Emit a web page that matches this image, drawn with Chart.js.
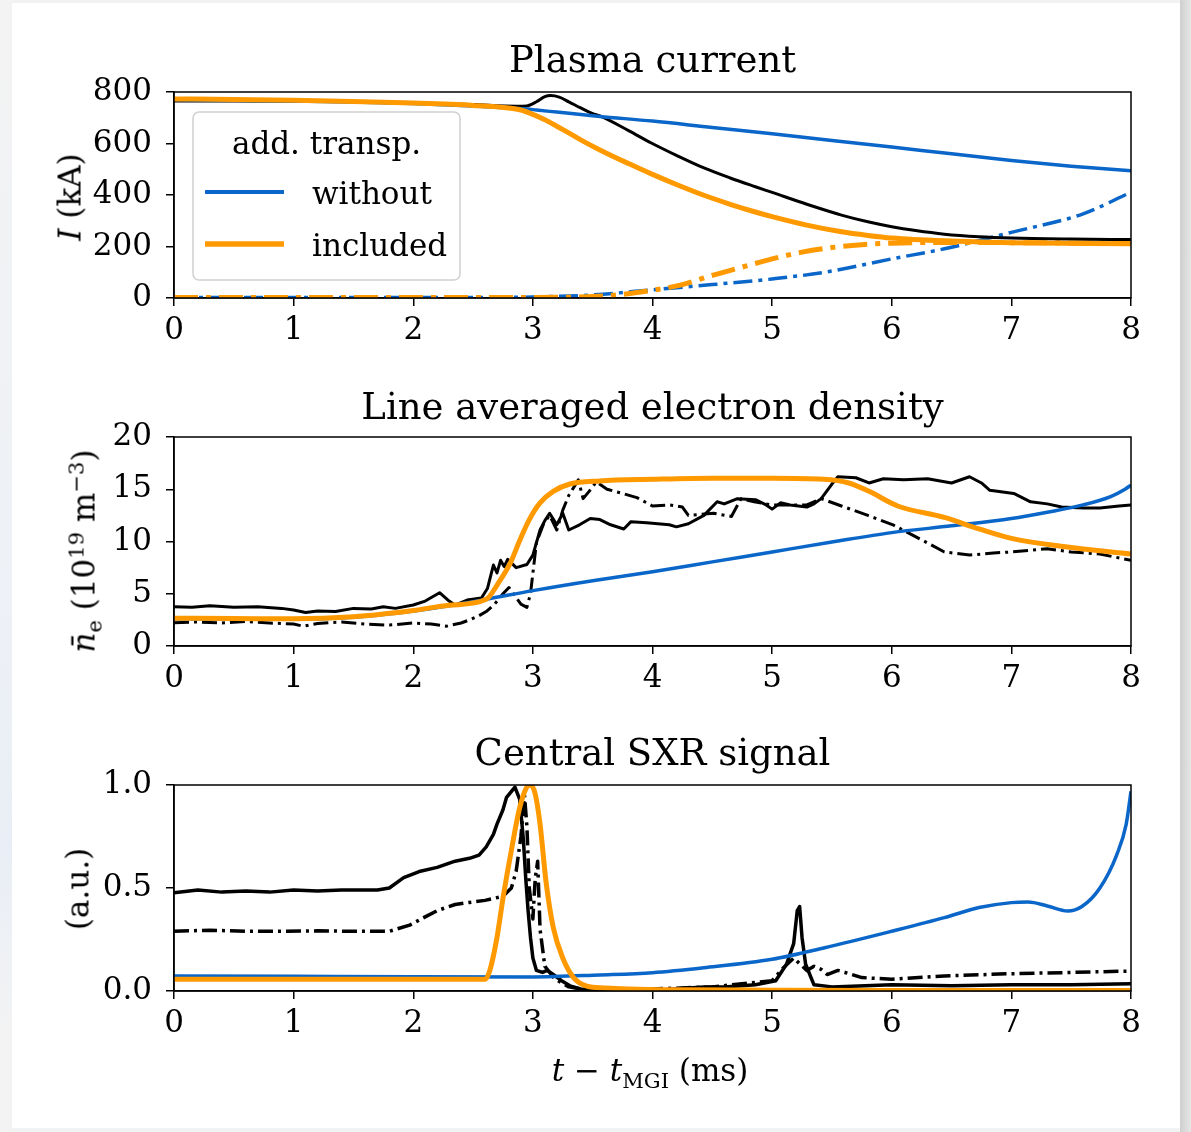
<!DOCTYPE html>
<html><head><meta charset="utf-8">
<script src="https://cdn.jsdelivr.net/npm/chart.js@4.4.1/dist/chart.umd.min.js"></script>
<style>
html,body{margin:0;padding:0;}
body{width:1191px;height:1132px;position:relative;overflow:hidden;background:#f1f2f4;}
#leftbg{position:absolute;left:0;top:0;width:12px;height:1132px;background:linear-gradient(to bottom,#f3f3f3 0%,#eef1f6 50%,#e9eef6 75%,#f3f3f3 92%);}
#card{position:absolute;left:12px;top:3px;width:1168px;height:1125px;background:#fff;}
#edge{position:absolute;left:1180px;top:0;width:11px;height:1132px;background:linear-gradient(to right,#cfcfcf,#e6e6e6);}
canvas{position:absolute;left:0;}
.lab{position:absolute;font-family:'DejaVu Serif',serif;font-size:31px;color:#000;white-space:nowrap;line-height:1;}
.rot{transform:translate(-50%,-50%) rotate(-90deg);}
.hor{transform:translate(-50%,-50%);}
sub,sup{font-size:68%;line-height:0;}
</style></head><body>
<div id="leftbg"></div><div id="card"></div><div id="edge"></div>
<canvas id="c1" width="1191" height="360" style="top:0px"></canvas>
<canvas id="c2" width="1191" height="350" style="top:360px"></canvas>
<canvas id="c3" width="1191" height="422" style="top:710px"></canvas>
<div class="lab rot" style="left:70px;top:197px"><i>I</i> (kA)</div>
<div class="lab rot" style="left:84px;top:551px"><i>n̄</i><sub>e</sub> (10<sup>19</sup> m<sup>−3</sup>)</div>
<div class="lab rot" style="left:78px;top:889px">(a.u.)</div>
<div class="lab hor" style="left:650px;top:1070px"><i>t</i> − <i>t</i><sub>MGI</sub> (ms)</div>
<script>
const FONT = 'DejaVu Serif';
const BLUE = '#0a66c8', ORANGE = '#ff9900', BLACK = '#000000';

// ---- axis ticks / text ----
const xTicks = [0,1,2,3,4,5,6,7,8];
const ipTicks = [0,200,400,600,800];
const neTicks = [0,5,10,15,20];
const sxrTicks = [0,0.5,1.0];
const sxrTickLabels = ['0.0','0.5','1.0'];
const panelTitles = ['Plasma current','Line averaged electron density','Central SXR signal'];
const legendTitle = 'add. transp.';
const legendLabels = ['without','included'];

// ---- Panel 1: plasma current (kA) ----
const ipExpT = [0,0.5,1,1.5,2,2.5,2.86,2.95,3.03,3.1,3.15,3.22,3.3,3.4,3.5,3.56,3.8,3.99,4.2,4.43,4.65,4.86,5.0,5.29,5.58,5.8,6.0,6.2,6.44,6.73,7.0,7.5,8.0];
const ipExpV = [765,765,764,762,758,751,745,746,762,782,786,780,762,738,716,707,650,602,554,505,466,432,410,364,322,296,277,262,248,238,233,229,227];
const ipNoT = [0,0.5,1,1.5,2,2.5,2.85,2.95,3.03,3.2,3.56,4,4.5,5,5.5,6,6.5,7,7.5,8];
const ipNoV = [770,768,765,761,755,746,737,734,730,722,705,687,662,638,612,586,560,534,512,494];
const ipInT = [0,0.5,1,1.5,2,2.5,2.8,2.9,3.0,3.1,3.2,3.3,3.4,3.56,3.8,4.0,4.2,4.43,4.65,4.86,5.0,5.29,5.58,5.8,6.0,6.44,7.0,8.0];
const ipInV = [773,771,768,763,757,748,738,730,713,692,667,641,614,575,522,480,441,399,364,334,316,283,257,243,233,222,215,211];
const ireNoT = [0,1,2,2.5,3,3.5,4,4.5,5,5.44,6,6.44,7,7.6,8];
const ireNoV = [2,2,2,2,4,12,32,52,74,100,152,191,255,327,411];
const ireInT = [0,1,2,3,3.5,3.75,4,4.25,4.5,4.75,5,5.25,5.5,5.75,6,6.5,7,8];
const ireInV = [2,2,2,2,6,14,30,52,88,120,152,178,196,207,213,216,215,213];

// ---- Panel 2: line averaged density (1e19 m^-3) ----
const neExpT = [0,0.15,0.3,0.5,0.7,0.9,1.0,1.1,1.2,1.35,1.5,1.65,1.75,1.85,2.0,2.1,2.22,2.3,2.35,2.45,2.57,2.62,2.67,2.7,2.73,2.76,2.79,2.86,2.95,3.0,3.06,3.1,3.14,3.2,3.25,3.3,3.39,3.48,3.56,3.65,3.76,3.82,3.95,4.14,4.2,4.3,4.43,4.54,4.6,4.71,4.86,4.95,5.0,5.07,5.15,5.29,5.35,5.41,5.5,5.55,5.7,5.81,5.93,6.1,6.3,6.5,6.65,6.75,6.82,7.02,7.16,7.3,7.42,7.6,7.74,7.9,8.0];
const neExpV = [3.76,3.7,3.86,3.7,3.75,3.6,3.45,3.2,3.35,3.3,3.6,3.55,3.75,3.6,3.92,4.3,5.1,4.3,3.9,4.4,4.6,5.5,7.75,7.0,8.2,7.6,8.3,7.5,7.8,8.7,11.1,12.0,12.7,11.6,12.7,11.1,11.6,12.2,12.1,11.6,11.2,11.9,11.8,11.6,11.4,11.7,12.5,13.8,13.6,14.1,14.0,13.5,13.1,13.7,13.5,13.3,13.6,14.1,15.5,16.2,16.1,15.6,16.0,15.9,16.0,15.6,16.2,15.6,14.9,14.6,13.8,13.6,13.3,13.2,13.2,13.4,13.5];
const neExp2T = [0,0.2,0.4,0.6,0.8,1.0,1.08,1.2,1.4,1.6,1.8,2.0,2.15,2.28,2.4,2.47,2.55,2.61,2.68,2.75,2.8,2.85,2.9,2.95,2.98,3.03,3.09,3.14,3.2,3.25,3.3,3.38,3.42,3.47,3.53,3.62,3.75,3.87,4.0,4.14,4.25,4.3,4.51,4.66,4.74,4.85,5.0,5.29,5.41,5.58,5.8,6.01,6.21,6.44,6.65,6.85,7.0,7.3,7.5,7.74,8.0];
const neExp2V = [2.23,2.3,2.2,2.35,2.2,2.1,1.9,2.15,2.3,2.1,2.0,2.2,2.1,1.9,2.2,2.5,2.9,3.3,4.0,5.0,5.6,4.8,4.0,3.7,5.0,9.9,11.7,12.5,11.1,13.0,14.4,15.9,14.1,14.8,15.7,15.0,14.6,14.2,13.4,13.5,13.3,12.5,12.7,12.4,14.1,13.8,13.5,13.5,14.1,13.4,12.5,11.6,10.4,9.0,8.7,8.9,9.0,9.3,9.0,8.8,8.2];
const neNoT = [0,1,1.5,2,2.3,2.61,3,3.5,4,4.5,5,5.5,6,6.5,7,7.3,7.6,7.83,7.95,8];
const neNoV = [2.6,2.55,2.75,3.35,3.85,4.47,5.3,6.25,7.1,8.05,9.0,9.95,10.85,11.5,12.2,12.8,13.5,14.3,15.0,15.4];
const neInT = [0,0.5,1,1.5,2,2.3,2.61,2.71,2.81,2.89,2.97,3.06,3.17,3.31,3.56,4,4.5,5,5.43,5.64,5.81,6.05,6.44,6.73,7,7.45,8];
const neInV = [2.65,2.63,2.6,2.8,3.4,3.9,4.47,6.0,7.9,10.1,12.1,13.7,14.8,15.5,15.8,15.95,16.05,16.05,15.95,15.6,14.8,13.4,12.3,11.2,10.3,9.5,8.8];

// ---- Panel 3: central SXR (a.u.) ----
const sxrExpT = [0,0.2,0.4,0.6,0.8,1.0,1.2,1.4,1.6,1.7,1.8,1.92,2.05,2.2,2.35,2.47,2.55,2.61,2.67,2.7,2.75,2.78,2.85,2.89,2.92,2.94,2.96,2.98,3.0,3.03,3.08,3.12,3.17,3.24,3.31,3.4,3.5,4.0,4.43,4.6,4.86,5.03,5.12,5.18,5.21,5.23,5.25,5.28,5.35,5.5,6.0,6.5,7.0,7.5,8.0];
const sxrExpV = [0.477,0.49,0.48,0.485,0.48,0.49,0.485,0.49,0.49,0.49,0.5,0.55,0.58,0.6,0.63,0.644,0.66,0.7,0.76,0.81,0.88,0.94,0.99,0.93,0.74,0.55,0.39,0.26,0.16,0.1,0.09,0.1,0.08,0.05,0.025,0.01,0.002,0.003,0.02,0.02,0.03,0.05,0.13,0.23,0.39,0.41,0.26,0.13,0.03,0.02,0.03,0.025,0.03,0.03,0.035];
const sxrExp2T = [0,0.3,0.6,0.9,1.2,1.5,1.8,1.97,2.1,2.2,2.35,2.47,2.6,2.75,2.82,2.86,2.9,2.93,2.95,2.97,3.0,3.02,3.04,3.06,3.1,3.18,3.3,3.45,4.0,4.5,5.0,5.09,5.18,5.29,5.35,5.41,5.46,5.55,5.61,5.75,6.0,6.44,7.0,7.5,8.0];
const sxrExp2V = [0.29,0.295,0.29,0.29,0.292,0.29,0.29,0.32,0.36,0.39,0.42,0.43,0.44,0.46,0.5,0.58,0.75,0.95,0.8,0.5,0.35,0.55,0.63,0.3,0.12,0.06,0.02,0.005,0.01,0.02,0.05,0.11,0.16,0.1,0.12,0.105,0.08,0.1,0.09,0.065,0.057,0.073,0.084,0.09,0.097];
const sxrNoT = [0,1,2,3,3.56,4,4.43,5,5.44,6,6.44,6.73,7.0,7.14,7.3,7.47,7.59,7.74,7.88,7.96,8];
const sxrNoV = [0.073,0.071,0.069,0.068,0.078,0.089,0.113,0.154,0.21,0.29,0.356,0.405,0.429,0.432,0.413,0.388,0.41,0.5,0.66,0.81,0.97];
const sxrInT = [0,1,2,2.6,2.64,2.7,2.75,2.81,2.89,2.95,2.98,3.02,3.06,3.11,3.17,3.25,3.34,3.45,3.6,3.8,4.2,5,6,8];
const sxrInV = [0.057,0.057,0.057,0.057,0.1,0.26,0.45,0.65,0.89,0.99,1.0,0.955,0.81,0.53,0.31,0.16,0.065,0.024,0.015,0.01,0.006,0.004,0.003,0.003];

function pts(t, v) { return t.map((x, i) => ({x: x, y: v[i]})); }
function series(label, t, v, color, width, dash, smooth) {
  return {
    label: label, data: pts(t, v), borderColor: color, backgroundColor: color,
    borderWidth: width, borderDash: dash || [], pointRadius: 0, pointHoverRadius: 0,
    fill: false, tension: 0, cubicInterpolationMode: smooth ? 'monotone' : 'default',
    clip: 0, borderCapStyle: 'butt', borderJoinStyle: 'round'
  };
}

const framePlugin = {
  id: 'frame',
  afterDatasetsDraw(chart) {
    const a = chart.chartArea, c = chart.ctx;
    c.save(); c.strokeStyle = '#000'; c.lineWidth = 1.5;
    c.strokeRect(a.left, a.top, a.right - a.left, a.bottom - a.top);
    c.restore();
  }
};

const boxLegendPlugin = {
  id: 'boxLegend',
  afterDraw(chart) {
    const c = chart.ctx;
    c.save();
    c.beginPath();
    c.roundRect(193, 112, 267, 168, 6);
    c.fillStyle = 'rgba(255,255,255,0.85)'; c.fill();
    c.strokeStyle = '#d0d0d0'; c.lineWidth = 1.5; c.stroke();
    c.fillStyle = '#000';
    c.font = '31px "' + FONT + '"';
    c.textBaseline = 'alphabetic';
    c.textAlign = 'center';
    c.fillText(legendTitle, 326.5, 154);
    c.textAlign = 'left';
    const items = [{col: BLUE, w: 4, y: 192, ty: 204}, {col: ORANGE, w: 5.5, y: 244, ty: 256}];
    items.forEach((it, i) => {
      c.beginPath(); c.strokeStyle = it.col; c.lineWidth = it.w; c.lineCap = 'butt';
      c.moveTo(205, it.y); c.lineTo(284, it.y); c.stroke();
      c.fillText(legendLabels[i], 312, it.ty);
    });
    c.restore();
  }
};

function makeScales(ymin, ymax, yTickVals, yLabelFn, xAxisHeight) {
  return {
    x: {
      type: 'linear', min: 0, max: 8,
      afterBuildTicks: s => { s.ticks = xTicks.map(v => ({value: v})); },
      afterFit: s => { s.height = xAxisHeight; },
      grid: {drawOnChartArea: false, drawTicks: true, tickLength: 8, tickWidth: 1.5, lineWidth: 1.5, tickColor: '#000', color: '#000'},
      border: {display: true, color: '#000', width: 1.5},
      ticks: {color: '#000', font: {family: FONT, size: 31, lineHeight: 1.2}, padding: 6, maxRotation: 0, autoSkip: false,
              callback: (v, i) => String(xTicks[i])}
    },
    y: {
      type: 'linear', min: ymin, max: ymax,
      afterBuildTicks: s => { s.ticks = yTickVals.map(v => ({value: v})); },
      afterFit: s => { s.width = 174; },
      grid: {drawOnChartArea: false, drawTicks: true, tickLength: 8, tickWidth: 1.5, lineWidth: 1.5, tickColor: '#000', color: '#000'},
      border: {display: true, color: '#000', width: 1.5},
      ticks: {color: '#000', font: {family: FONT, size: 31, lineHeight: 1.2}, padding: 14, autoSkip: false,
              callback: (v, i) => yLabelFn(i)}
    }
  };
}

function baseOptions(title, padTop, padBottom, scales) {
  return {
    responsive: false, animation: false, devicePixelRatio: 1,
    layout: {padding: {left: 0, right: 60, top: 0, bottom: 0}},
    plugins: {
      legend: {display: false}, tooltip: {enabled: false},
      title: {display: true, text: title, fullSize: false, color: '#000',
              font: {family: FONT, size: 37, weight: 'normal', lineHeight: 1.2},
              padding: {top: padTop, bottom: padBottom}}
    },
    scales: scales
  };
}

// Panel 1
new Chart(document.getElementById('c1'), {
  type: 'line',
  data: {datasets: [
    series(legendLabels[1], ipInT, ipInV, ORANGE, 5, [], true),
    series(legendLabels[0], ipNoT, ipNoV, BLUE, 3.5, [], true),
    series('experiment', ipExpT, ipExpV, BLACK, 3, [], true),
    series('runaway current (' + legendLabels[1] + ')', ireInT, ireInV, ORANGE, 5, [24, 8, 5, 8], true),
    series('runaway current (' + legendLabels[0] + ')', ireNoT, ireNoV, BLUE, 3.5, [19, 6, 4, 6], true)
  ]},
  options: baseOptions(panelTitles[0], 40, 7.6, makeScales(0, 800, ipTicks, i => String(ipTicks[i]), 62)),
  plugins: [framePlugin, boxLegendPlugin]
});

// Panel 2
new Chart(document.getElementById('c2'), {
  type: 'line',
  data: {datasets: [
    series(legendLabels[1], neInT, neInV, ORANGE, 5, [], true),
    series(legendLabels[0], neNoT, neNoV, BLUE, 3.5, [], true),
    series('experiment 1', neExpT, neExpV, BLACK, 3, []),
    series('experiment 2', neExp2T, neExp2V, BLACK, 3, [15, 5, 3, 5])
  ]},
  options: baseOptions(panelTitles[1], 27, 5.6, makeScales(0, 20, neTicks, i => String(neTicks[i]), 64)),
  plugins: [framePlugin]
});

// Panel 3
new Chart(document.getElementById('c3'), {
  type: 'line',
  data: {datasets: [
    series(legendLabels[1], sxrInT, sxrInV, ORANGE, 5, [], true),
    series(legendLabels[0], sxrNoT, sxrNoV, BLUE, 3.5, [], true),
    series('experiment 1', sxrExpT, sxrExpV, BLACK, 3.5, []),
    series('experiment 2', sxrExp2T, sxrExp2V, BLACK, 3.5, [15, 5, 3, 5])
  ]},
  options: baseOptions(panelTitles[2], 23, 7.6, makeScales(0, 1, sxrTicks, i => sxrTickLabels[i], 141)),
  plugins: [framePlugin]
});
</script>
</body></html>
